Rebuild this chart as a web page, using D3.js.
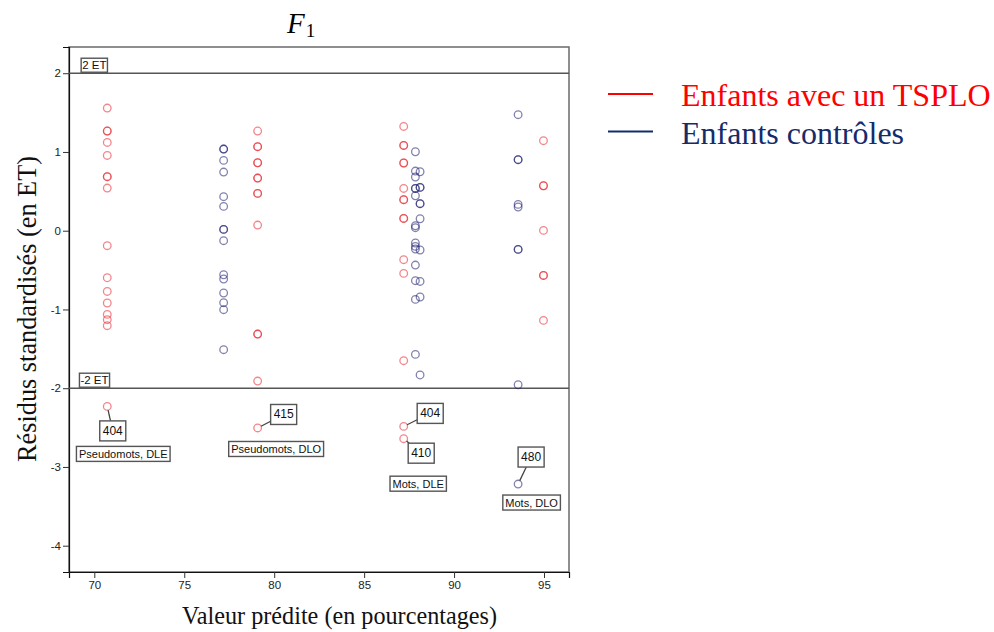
<!DOCTYPE html>
<html><head><meta charset="utf-8">
<script src="https://cdn.jsdelivr.net/npm/d3@7"></script>
<style>html,body{margin:0;padding:0;background:#fff;}</style>
</head><body>
<svg id="chart" width="994" height="632"></svg>
<script>
// ---- data ----
const xTicks = [70, 75, 80, 85, 90, 95];
const yTicks = [2, 1, 0, -1, -2, -3, -4];
const refLines = [2, -2];
const refLabels = ["2 ET", "-2 ET"];

const tsploPredicted = [70.72, 79.08, 87.20, 94.97];
const tsploResiduals = [
  [1.558, 1.266, 1.266, 1.121, 0.956, 0.686, 0.686, 0.542, -0.190, -0.597, -0.771, -0.918, -1.063, -1.130, -1.206, -2.231],
  [1.266, 1.067, 1.067, 0.863, 0.863, 0.669, 0.669, 0.474, 0.474, 0.072, -1.312, -1.312, -1.909, -2.505],
  [1.324, 1.083, 1.083, 0.860, 0.860, 0.537, 0.394, 0.394, 0.156, 0.156, -0.368, -0.542, -1.651, -2.485, -2.641],
  [1.143, 0.571, 0.571, 0.004, -0.568, -0.568, -1.139]
];
const controlPredicted = [77.19, 87.85, 88.11, 93.56];
const controlResiduals = [
  [1.037, 1.037, 0.893, 0.745, 0.432, 0.309, 0.017, 0.017, -0.127, -0.559, -0.613, -0.791, -0.914, -1.003, -1.511],
  [1.003, 0.758, 0.682, 0.537, 0.537, 0.444, 0.063, 0.038, -0.156, -0.199, -0.232, -0.436, -0.635, -0.872, -1.571],
  [0.749, 0.550, 0.550, 0.343, 0.343, 0.152, -0.245, -0.644, -0.842, -1.832],
  [1.473, 0.902, 0.902, 0.334, 0.301, -0.237, -0.237, -1.956, -3.217]
];
// labelled outliers
const outlierIds = ["404", "415", "404", "410", "480"];
const outlierX = [70.72, 79.08, 87.20, 87.20, 93.56];
const outlierY = [-2.231, -2.505, -2.485, -2.641, -3.217];
const conditionLabels = ["Pseudomots, DLE", "Pseudomots, DLO", "Mots, DLE", "Mots, DLO"];
const legendLabels = ["Enfants avec un TSPLO", "Enfants contrôles"];

// ---- layout / style ----
const plot = {left: 69, right: 569, top: 47, bottom: 572};
const red = "#e8202a", blue = "#1c1c6e";
// label box offsets (pixels, relative to the outlier point)
const idOffsets = [[5.5, 24.5], [26, -13.5], [26.5, -13], [17.5, 14.5], [13, -27]];
const condAnchor = [0, 1, 3, 4]; // which outlier each condition label hangs from
const condOffsets = [[16, 47.5], [18.5, 21], [14.5, 45], [13.5, 18.5]];

const svg = d3.select("#chart");
const x = d3.scaleLinear().domain([68.593, 96.389]).range([plot.left, plot.right]);
const y = d3.scaleLinear().domain([2.333, -4.334]).range([plot.top, plot.bottom]);

// frame
svg.append("rect").attr("x", plot.left).attr("y", plot.top)
  .attr("width", plot.right - plot.left).attr("height", plot.bottom - plot.top)
  .attr("fill", "none").attr("stroke", "#6a6a6a").attr("stroke-width", 1.5);

// axes
const yAxis = d3.axisLeft(y).tickValues(yTicks).tickSize(6).tickPadding(2).tickFormat(d => String(d));
const gy = svg.append("g").attr("transform", `translate(${plot.left},0)`).call(yAxis);
gy.select(".domain").attr("stroke", "#111").attr("stroke-width", 1.2);
gy.selectAll(".tick line").attr("stroke", "#333");
gy.selectAll("text").attr("font-family", "Arial, 'Liberation Sans', sans-serif").attr("font-size", 11.5).attr("fill", "#222");

const xAxis = d3.axisBottom(x).tickValues(xTicks).tickSize(6).tickPadding(3).tickFormat(d => String(d));
const gx = svg.append("g").attr("transform", `translate(0,${plot.bottom})`).call(xAxis);
gx.select(".domain").attr("stroke", "#111").attr("stroke-width", 1.2);
gx.selectAll(".tick line").attr("stroke", "#333");
gx.selectAll("text").attr("font-family", "Arial, 'Liberation Sans', sans-serif").attr("font-size", 11.5).attr("fill", "#222");

// reference lines
svg.selectAll(".ref").data(refLines).join("line")
  .attr("x1", plot.left).attr("x2", plot.right)
  .attr("y1", d => y(d)).attr("y2", d => y(d))
  .attr("stroke", "#555").attr("stroke-width", 1.5);

function boxLabel(g, cx, cy, text, fs, padX, h) {
  const t = g.append("text").attr("x", cx).attr("y", cy).attr("text-anchor", "middle")
    .attr("dominant-baseline", "central")
    .attr("font-family", "Arial, 'Liberation Sans', sans-serif").attr("font-size", fs).attr("fill", "#111").text(text);
  const w = t.node().getComputedTextLength() + 2 * padX;
  g.insert("rect", "text").attr("x", cx - w / 2).attr("y", cy - h / 2).attr("width", w).attr("height", h)
    .attr("fill", "#fff").attr("stroke", "#555").attr("stroke-width", 1.4);
}

// ref labels
const refG = svg.append("g");
refLines.forEach((v, i) => {
  boxLabel(refG.append("g"), i === 0 ? 94.3 : 94.5, y(v) - 8, refLabels[i], 11.5, 1, 14);
});

// points
function drawSeries(cols, vals, color, cls) {
  const pts = [];
  cols.forEach((c, i) => vals[i].forEach(v => pts.push([c, v])));
  svg.append("g").selectAll("circle").data(pts).join("circle")
    .attr("class", cls)
    .attr("cx", d => x(d[0])).attr("cy", d => y(d[1])).attr("r", 3.8)
    .attr("fill", "none").attr("stroke", color).attr("stroke-width", 1.3).attr("stroke-opacity", 0.55);
}
drawSeries(tsploPredicted, tsploResiduals, red, "tsplo");
drawSeries(controlPredicted, controlResiduals, blue, "ctrl");

// outlier labels
const annG = svg.append("g");
outlierIds.forEach((id, i) => {
  const px = x(outlierX[i]), py = y(outlierY[i]);
  const bx = px + idOffsets[i][0], by = py + idOffsets[i][1];
  const dx = bx - px, dy = by - py, len = Math.hypot(dx, dy);
  const hw = 12.5, hh = 10;
  const tEdge = Math.min(Math.abs(hw / dx) || 1e9, Math.abs(hh / dy) || 1e9);
  const ex = bx - dx * tEdge, ey = by - dy * tEdge;
  annG.append("line").attr("x1", px + dx / len * 3.8).attr("y1", py + dy / len * 3.8)
    .attr("x2", ex).attr("y2", ey).attr("stroke", "#444").attr("stroke-width", 1.3);
  boxLabel(annG.append("g"), bx, by, id, 12, 3, 20);
});
conditionLabels.forEach((lab, k) => {
  const i = condAnchor[k];
  const px = x(outlierX[i]), py = y(outlierY[i]);
  boxLabel(annG.append("g"), px + condOffsets[k][0], py + condOffsets[k][1], lab, 11, 2.5, 15);
});

// titles
const title = svg.append("text").attr("x", 287).attr("y", 33)
  .attr("font-family", "'Liberation Serif', 'Times New Roman', serif").attr("font-size", 29);
title.append("tspan").attr("font-style", "italic").text("F");
title.append("tspan").attr("font-size", 19).attr("dy", 4).attr("dx", 1).text("1");

svg.append("text").attr("x", 339.5).attr("y", 624).attr("text-anchor", "middle")
  .attr("font-family", "'Liberation Serif', 'Times New Roman', serif").attr("font-size", 24.2).attr("fill", "#111")
  .text("Valeur prédite (en pourcentages)");
svg.append("text").attr("transform", `translate(36,${309}) rotate(-90)`).attr("text-anchor", "middle")
  .attr("font-family", "'Liberation Serif', 'Times New Roman', serif").attr("font-size", 26.3).attr("fill", "#111")
  .text("Résidus standardisés (en ET)");

// legend
const legColors = ["#ff0000", "#142c6b"];
const legG = svg.append("g");
legendLabels.forEach((lab, i) => {
  const ly = 94 + i * 37.5;
  legG.append("line").attr("x1", 608).attr("x2", 653).attr("y1", ly).attr("y2", ly)
    .attr("stroke", legColors[i]).attr("stroke-width", 1.8);
  legG.append("text").attr("x", 681).attr("y", ly + 12)
    .attr("font-family", "'Liberation Serif', 'Times New Roman', serif").attr("font-size", 32)
    .attr("fill", legColors[i]).text(lab);
});
</script>
</body></html>
